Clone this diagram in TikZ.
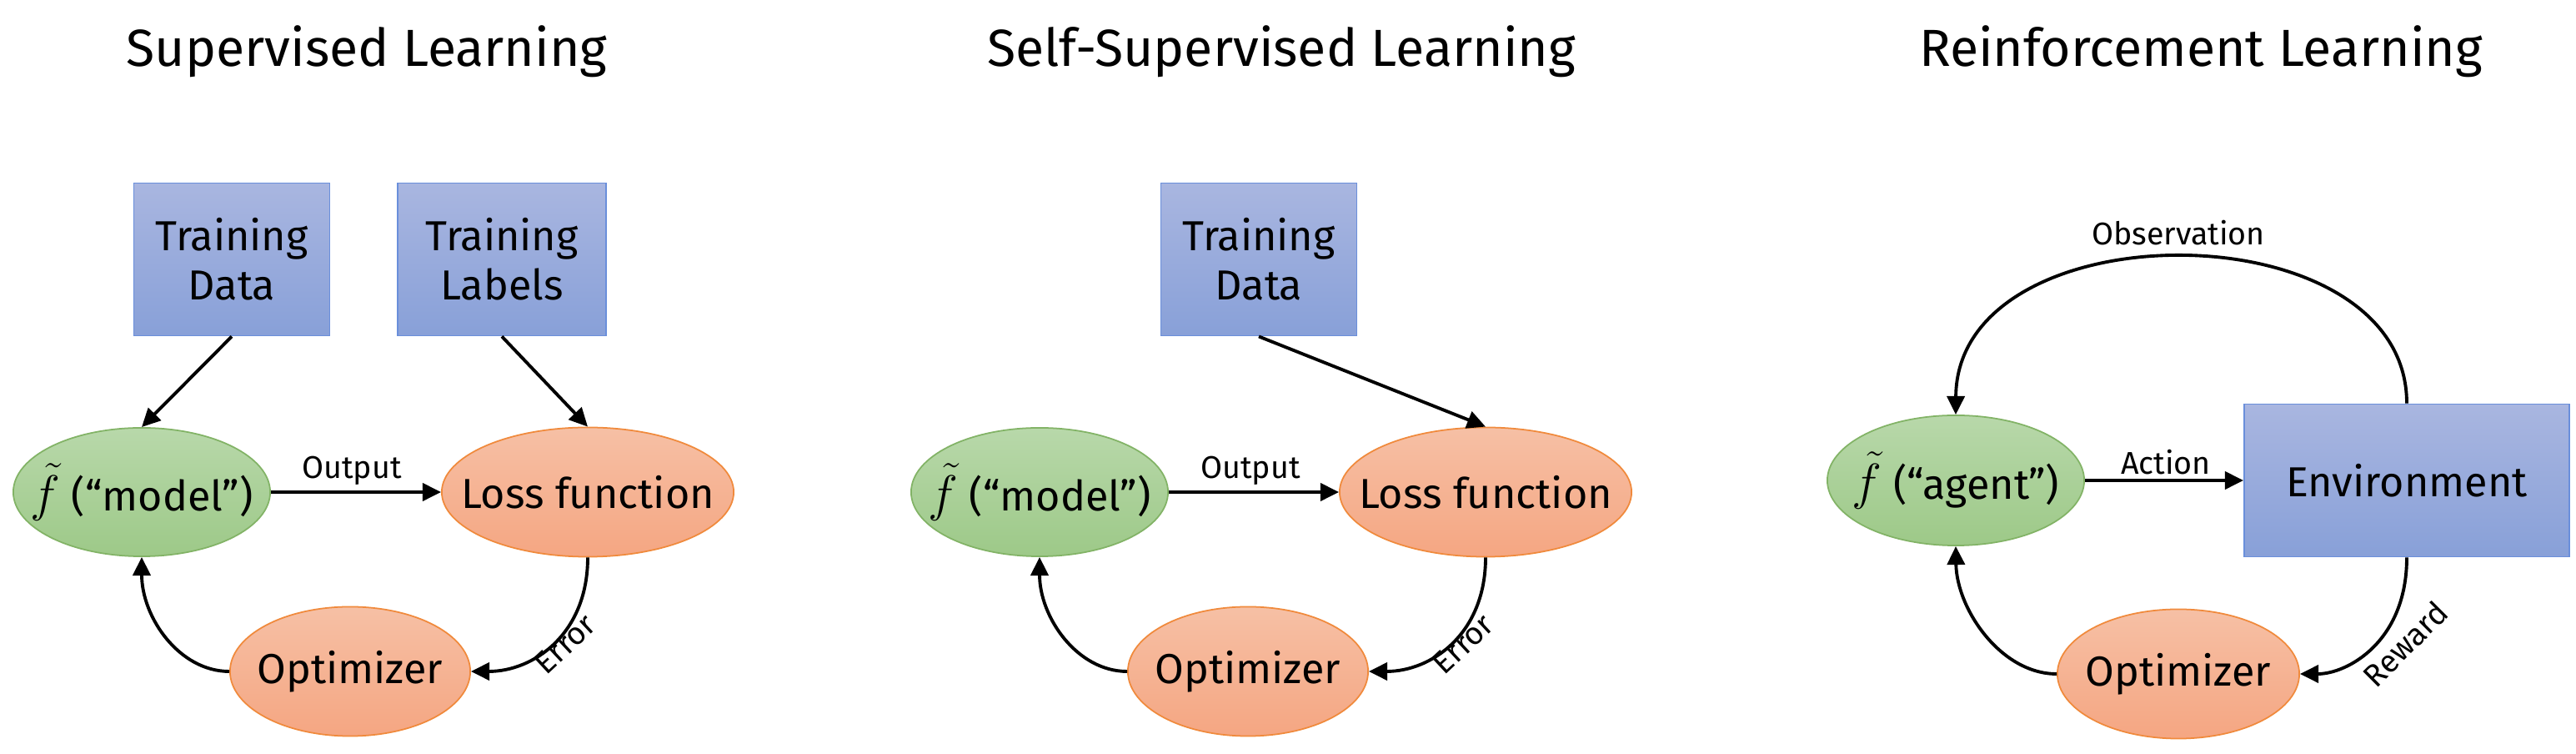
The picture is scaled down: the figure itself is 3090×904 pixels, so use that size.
\documentclass[tikz,border=0pt]{standalone}
\usepackage{fontspec}
\setmainfont{Fira Sans}
\usetikzlibrary{shapes.geometric,arrows.meta}
\definecolor{bluetop}{HTML}{A9B6E0}
\definecolor{bluebot}{HTML}{88A0D8}
\definecolor{blueedge}{HTML}{6A8FDB}
\definecolor{greentop}{HTML}{B8D8AA}
\definecolor{greenbot}{HTML}{9DC988}
\definecolor{greenedge}{HTML}{82B366}
\definecolor{orangetop}{HTML}{F6C0A5}
\definecolor{orangebot}{HTML}{F5A682}
\definecolor{orangeedge}{HTML}{F08A3C}
\newcommand\mynodefont{\fontsize{14.3}{16.8}\selectfont}
\newcommand\mylblfont{\fontsize{10.7}{12}\selectfont}
\newcommand\myheadfont{\fontsize{17.8}{20}\selectfont}
\newcommand\fixed[1]{\makebox[0pt][c]{#1}}
\newcommand\ftilde{{\fontsize{16.5}{18}\selectfont$\tilde{f}$}}
\begin{document}
\begin{tikzpicture}[x=0.01cm,y=-0.01cm,
  box/.style={rectangle, draw=blueedge, line width=0.5pt, top color=bluetop, bottom color=bluebot,
    minimum width=2.35cm, minimum height=1.83cm, inner sep=0pt, align=center, font=\mynodefont},
  greenell/.style={ellipse, draw=greenedge, line width=0.5pt, top color=greentop, bottom color=greenbot,
    minimum width=3.08cm, minimum height=1.54cm, inner sep=0pt, font=\mynodefont},
  orangeell/.style={ellipse, draw=orangeedge, line width=0.5pt, top color=orangetop, bottom color=orangebot,
    minimum height=1.55cm, inner sep=0pt, font=\mynodefont},
  arr/.style={-{Triangle[length=6.3pt,width=6pt]}, line width=1.1pt, black},
  lbl/.style={font=\mylblfont, inner sep=0pt},
  head/.style={font=\myheadfont, anchor=base, inner sep=0pt}]
\useasboundingbox (0,0) rectangle (3090,904);

% ---------- Titles
\node[head] (t1) at (440,80) {Supervised Learning};
\node[head] (t2) at (1537,80) {Self-Supervised Learning};
\node[head] (t3) at (2640,80) {Reinforcement Learning};

% ---------- Panel 1
\node[box] (td1) at (278,311) {Training\\Data};
\node[box, minimum width=2.5cm] (tl1) at (602,311) {Training\\Labels};
\node[greenell] (m1) at (170,590) {\fixed{\ftilde{} (“model”)}};
\node[orangeell, minimum width=3.5cm] (l1) at (705,590) {\fixed{Loss function}};
\node[orangeell, minimum width=2.88cm] (o1) at (420,805) {\fixed{Optimizer}};

\draw[arr] (td1.south) -- (m1.north);
\draw[arr] (tl1.south) -- (l1.north);
\draw[arr] (m1.east) -- (l1.west);
\node[lbl, anchor=base] (out1) at (422,574) {Output};
\draw[arr] (l1.south) .. controls (705,760) and (640,805) .. (o1.east);
\node[lbl, rotate=43] (err1) at (678,772) {Error};
\draw[arr] (o1.west) .. controls (215,805) and (170,740) .. (m1.south);

% ---------- Panel 2
\node[box] (td2) at (1510,311) {Training\\Data};
\node[greenell] (m2) at (1247,590) {\fixed{\ftilde{} (“model”)}};
\node[orangeell, minimum width=3.5cm] (l2) at (1782,590) {\fixed{Loss function}};
\node[orangeell, minimum width=2.88cm] (o2) at (1497,805) {\fixed{Optimizer}};

\draw[arr] (td2.south) -- (l2.north);
\draw[arr] (m2.east) -- (l2.west);
\node[lbl, anchor=base] (out2) at (1500,574) {Output};
\draw[arr] (l2.south) .. controls (1782,760) and (1717,805) .. (o2.east);
\node[lbl, rotate=43] (err2) at (1755,772) {Error};
\draw[arr] (o2.west) .. controls (1292,805) and (1247,740) .. (m2.south);

% ---------- Panel 3
\node[greenell, minimum height=1.56cm] (ag) at (2346,576) {\fixed{\ftilde{} (“agent”)}};
\node[box, minimum width=3.9cm] (env) at (2887,576) {Environment};
\node[orangeell, minimum width=2.9cm] (o3) at (2613,808) {\fixed{Optimizer}};

\draw[arr] (env.north) .. controls (2887,248) and (2347,248) .. (ag.north);
\node[lbl, anchor=base] (obs) at (2613,294) {Observation};
\draw[arr] (ag.east) -- (env.west);
\node[lbl, anchor=base] (act) at (2598,569) {Action};
\draw[arr] (env.south) .. controls (2887,770) and (2815,808) .. (o3.east);
\node[lbl, rotate=45] (rew) at (2885,772) {Reward};
\draw[arr] (o3.west) .. controls (2400,808) and (2347,730) .. (ag.south);
\end{tikzpicture}
\end{document}
